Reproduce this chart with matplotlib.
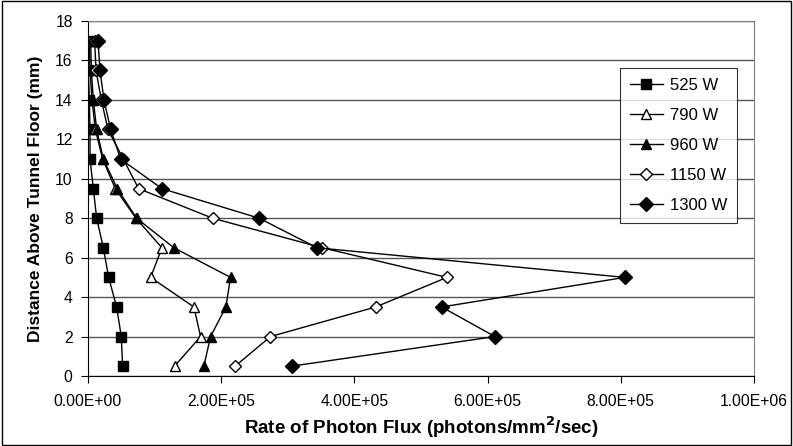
import matplotlib
matplotlib.use("Agg")
import matplotlib.pyplot as plt
from matplotlib.patches import Rectangle

plt.rcParams['font.family'] = ['Liberation Sans', 'DejaVu Sans']

heights = [0.5, 2, 3.5, 5, 6.5, 8, 9.5, 11, 12.5, 14, 15.5, 17]
flux_525 = [52000, 50000, 43000, 31000, 23000, 13000, 8000, 3000, 3000, 2000, 500, 500]
flux_790 = [130000, 169000, 159000, 94000, 111000, 72000, 41000, 22000, 11000, 6000, 3000, 2000]
flux_960 = [174000, 184000, 207000, 214000, 129000, 73000, 44000, 23000, 13000, 8000, 5000, 4000]
flux_1150 = [221000, 274000, 432000, 539000, 352000, 187000, 76000, 53000, 30000, 20000, 12000, 10000]
flux_1300 = [306000, 611000, 531000, 806000, 344000, 257000, 111000, 49000, 34000, 24000, 18000, 15000]
labels = ['525 W', '790 W', '960 W', '1150 W', '1300 W']
x_ticks = [0, 200000, 400000, 600000, 800000, 1000000]
x_tick_labels = ['0.00E+00', '2.00E+05', '4.00E+05', '6.00E+05', '8.00E+05', '1.00E+06']
y_ticks = [0, 2, 4, 6, 8, 10, 12, 14, 16, 18]

fig = plt.figure(figsize=(7.93, 4.46), dpi=100)
ax = fig.add_axes([88/793, 1-376/446, (754-88)/793, (376-21)/446])

styles = [
    dict(marker='s', mfc='black', ms=6.5),
    dict(marker='^', mfc='white', ms=7.5),
    dict(marker='^', mfc='black', ms=7.5),
    dict(marker='D', mfc='white', ms=6),
    dict(marker='D', mfc='black', ms=7),
]
series = [flux_525, flux_790, flux_960, flux_1150, flux_1300]
for vals, lab, st in zip(series, labels, styles):
    ax.plot(vals, heights, color='black', lw=1, mec='black', mew=1, label=lab, **st)

ax.set_xlim(0, 1000000)
ax.set_ylim(0, 18)
ax.set_xticks(x_ticks)
ax.set_xticklabels(x_tick_labels)
ax.set_yticks(y_ticks)
ax.yaxis.grid(True, color='#555555', lw=1)
ax.set_axisbelow(True)
for side in ['top', 'right']:
    ax.spines[side].set_color('#808080')
for side in ['left', 'bottom']:
    ax.spines[side].set_color('black')
ax.tick_params(axis='both', direction='out', length=5, labelsize=11.3, color='black')
ax.tick_params(axis='x', pad=8)
ax.tick_params(axis='y', pad=6)
ax.set_xlabel('Rate of Photon Flux (photons/mm$^\\mathbf{2}$/sec)', fontsize=13.5,
              fontweight='bold', labelpad=4)
ax.set_ylabel('Distance Above Tunnel Floor (mm)', fontsize=12.5, fontweight='bold', labelpad=9)

leg = ax.legend(loc='upper right', bbox_to_anchor=((737-88)/(754-88), (376-68)/(376-21)),
                frameon=True, fancybox=False, edgecolor='black', fontsize=12,
                handlelength=2.0, borderpad=0.6, labelspacing=0.9, handletextpad=0.4,
                borderaxespad=0)
leg.get_frame().set_linewidth(0.8)

fig.patches.append(Rectangle((0.002, 0.003), 0.996, 0.994, transform=fig.transFigure,
                             fill=False, edgecolor='black', lw=1))

fig.savefig('out.png', dpi=100)
